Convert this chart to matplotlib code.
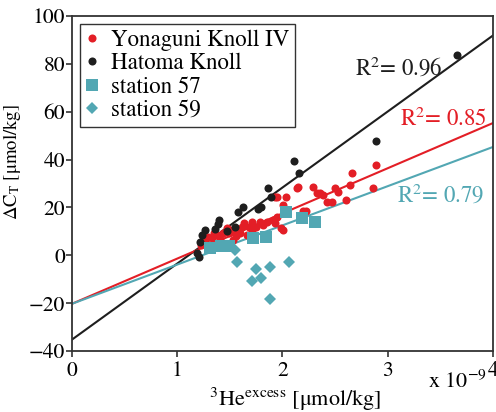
import matplotlib
matplotlib.use("Agg")
import matplotlib.pyplot as plt
import numpy as np

plt.rcParams['font.family'] = ['STIXGeneral', 'Liberation Serif', 'DejaVu Serif']
plt.rcParams['mathtext.fontset'] = 'stix'

# 3He excess in units of 1e-9 umol/kg, Delta C_T in umol/kg
yonaguni_x = [2.89, 2.86, 2.66, 2.64, 2.60, 2.53, 2.50, 2.47, 2.42, 2.39, 2.36, 2.33,
              2.29, 2.20, 2.22, 2.15, 2.14, 2.03, 2.01, 1.95, 1.93, 2.01, 1.99, 1.93,
              1.95, 1.91, 1.85, 1.79, 1.75, 1.71, 1.68, 1.62, 1.60, 1.52, 1.49, 1.44,
              1.38, 1.33, 1.25, 1.23, 1.53, 1.71, 1.66, 1.57, 1.47, 1.29, 1.35, 1.41,
              1.64, 1.82, 1.56, 1.27]
yonaguni_y = [37.7, 28.0, 34.2, 29.4, 23.3, 26.4, 28.0, 22.2, 22.4, 25.2, 25.9, 25.9,
              28.7, 18.4, 18.6, 28.7, 28.3, 24.5, 21.0, 24.3, 24.5, 10.6, 11.3, 13.4,
              16.1, 14.8, 14.1, 14.1, 12.0, 14.1, 12.0, 12.0, 9.2, 10.6, 9.2, 9.2,
              8.5, 7.1, 6.4, 4.3, 6.4, 10.6, 8.5, 11.0, 11.5, 7.5, 9.5, 7.0,
              13.5, 12.5, 8.0, 5.0]

hatoma_x = [3.66, 2.89, 2.11, 2.16, 1.86, 1.89, 1.63, 1.58, 1.77, 1.80, 1.40, 1.39,
            1.36, 1.27, 1.24, 1.22, 1.19, 1.21, 1.47, 1.55]
hatoma_y = [83.7, 47.6, 39.6, 34.2, 28.2, 24.3, 20.2, 18.2, 19.2, 20.2, 14.8, 13.2,
            10.8, 10.6, 8.5, 5.6, 1.0, -0.5, 10.0, 12.0]

st57_x = [1.31, 1.42, 1.46, 1.49, 1.72, 1.84, 2.03, 2.19, 2.31]
st57_y = [2.9, 3.9, 4.1, 3.9, 7.3, 7.6, 18.1, 15.7, 14.0]

st59_x = [1.55, 1.57, 1.75, 1.88, 2.06, 1.71, 1.80, 1.88]
st59_y = [2.2, -3.0, -5.8, -4.8, -2.9, -10.6, -9.6, -18.3]

# regression lines: intercept, slope (per 1e-9)
fit_names = ['hatoma', 'yonaguni', 'st57']
fit_intercept = [-35.3, -20.3, -20.3]
fit_slope = [31.8, 18.9, 16.4]
fit_r2 = ['0.96', '0.85', '0.79']

red = '#e31e26'
black = '#1e1e1e'
teal = '#52a7b3'

fig = plt.figure(figsize=(4.96, 4.12), dpi=100)
ax = fig.add_axes([0.1446, 0.148, 0.8494, 0.813])

xs = np.array([0, 4])
line_colors = [black, red, teal]
for b, m, c in zip(fit_intercept, fit_slope, line_colors):
    ax.plot(xs, b + m * xs, color=c, lw=1.5, zorder=2)

ax.plot(yonaguni_x, yonaguni_y, 'o', color=red, ms=5.8, mew=0, label='Yonaguni Knoll IV', zorder=3)
ax.plot(hatoma_x, hatoma_y, 'o', color=black, ms=5.8, mew=0, label='Hatoma Knoll', zorder=3)
ax.plot(st57_x, st57_y, 's', color=teal, ms=8.3, mew=0, label='station 57', zorder=4)
ax.plot(st59_x, st59_y, 'D', color=teal, ms=5.8, mew=0, label='station 59', zorder=4)

ax.text(2.69, 78.5, 'R$^2$= ' + fit_r2[0], color=black, fontsize=16.5, va='center')
ax.text(3.12, 57.0, 'R$^2$= ' + fit_r2[1], color=red, fontsize=16.5, va='center')
ax.text(3.09, 25.3, 'R$^2$= ' + fit_r2[2], color=teal, fontsize=16.5, va='center')

ax.set_xlim(0, 4)
ax.set_ylim(-40, 100)
ax.set_xticks([0, 1, 2, 3, 4])
ax.set_yticks(np.arange(-40, 101, 20))
ax.tick_params(labelsize=15.5, length=4, width=1.2, color='#333333', direction='out', pad=1)
ax.tick_params(axis='x', pad=3)
for sp in ax.spines.values():
    sp.set_linewidth(1.3)
    sp.set_color('#333333')

ax.set_xlabel('$^3$He$^{\\rm excess}$ [μmol/kg]', fontsize=16)
ax.set_ylabel('ΔC$_{\\rm T}$ [μmol/kg]', fontsize=13.5)
ax.yaxis.set_label_coords(-0.116, 0.564)
ax.xaxis.set_label_coords(0.53, -0.105)
fig.text(0.862, 0.058, 'x 10$^{-9}$', fontsize=16, ha='left')

legend = ax.legend(loc='upper left', fontsize=16.5, handlelength=0.6, handletextpad=0.5,
                   labelspacing=0.08, borderpad=0.25, borderaxespad=0.35, fancybox=False,
                   framealpha=1, edgecolor='#333333')
legend.get_frame().set_linewidth(1.0)

fig.savefig('out.png', dpi=100)
